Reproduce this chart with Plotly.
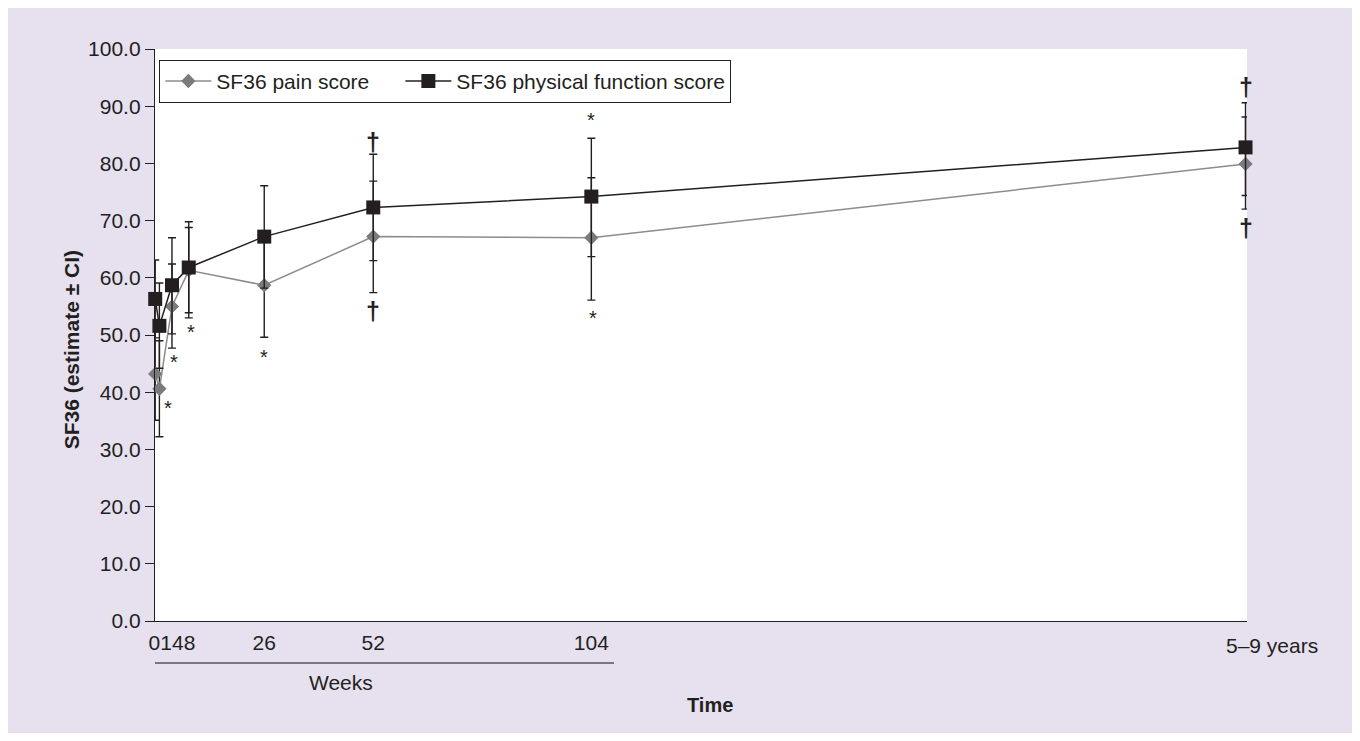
import plotly.graph_objects as go

# ---- data ----
time_x = [0, 1, 4, 8, 26, 52, 104, 260]
x_tick_vals = [4, 26, 52, 104]
x_tick_text = ["0148", "26", "52", "104"]
years_label = "5–9 years"

pain = [43.2, 40.6, 55.0, 61.3, 58.7, 67.2, 67.0, 79.9]
pain_upper = [51.3, 49.0, 62.4, 68.8, 67.7, 76.9, 77.5, 88.1]
pain_lower = [35.1, 32.2, 47.7, 53.0, 49.6, 57.4, 56.1, 72.0]

phys = [56.3, 51.6, 58.7, 61.8, 67.2, 72.3, 74.2, 82.8]
phys_upper = [63.1, 59.1, 67.0, 69.8, 76.1, 81.6, 84.4, 90.6]
phys_lower = [49.5, 44.2, 50.2, 53.9, 58.2, 63.0, 63.7, 74.4]

y_ticks = [0, 10, 20, 30, 40, 50, 60, 70, 80, 90, 100]

# significance marks: (time, symbol, series, bound)
sig_marks = [
    (1, "*", "pain", "value"),
    (4, "*", "pain", "lower"),
    (8, "*", "pain", "lower"),
    (26, "*", "pain", "lower"),
    (52, "†", "phys", "upper"),
    (52, "†", "pain", "lower"),
    (104, "*", "phys", "upper"),
    (104, "*", "pain", "lower"),
    (260, "†", "phys", "upper"),
    (260, "†", "pain", "lower"),
]
# pixel offsets of each mark from its anchor (dx, dy; dy positive = up)
sig_offsets = [(9, -14), (2, -9), (2, -9), (0, -15), (0, 12), (0, -18),
               (0, 23), (2, -13), (0, 16), (0, -19)]

DARK = "#231F20"
GRAY_M = "#7B7B7F"
GRAY_L = "#8C8C8C"
LAV = "#E6E0EF"
FONT = "Liberation Sans, Arial, Helvetica, sans-serif"
FS = 21

fig = go.Figure()

fig.add_trace(go.Scatter(
    x=time_x, y=pain, name="SF36 pain score", mode="lines+markers",
    line=dict(color=GRAY_L, width=1.5),
    marker=dict(symbol="diamond", size=11, color=GRAY_M),
    error_y=dict(type="data", symmetric=False,
                 array=[u - v for u, v in zip(pain_upper, pain)],
                 arrayminus=[v - l for v, l in zip(pain, pain_lower)],
                 color=DARK, thickness=1.4, width=4),
    cliponaxis=False, legendwidth=179,
))
fig.add_trace(go.Scatter(
    x=time_x, y=phys, name="SF36 physical function score", mode="lines+markers",
    line=dict(color=DARK, width=1.5),
    marker=dict(symbol="square", size=14, color=DARK),
    error_y=dict(type="data", symmetric=False,
                 array=[u - v for u, v in zip(phys_upper, phys)],
                 arrayminus=[v - l for v, l in zip(phys, phys_lower)],
                 color=DARK, thickness=1.4, width=4),
    cliponaxis=False,
))

series = {
    "pain": dict(value=pain, upper=pain_upper, lower=pain_lower),
    "phys": dict(value=phys, upper=phys_upper, lower=phys_lower),
}

annotations = []
for (t, sym, s, bound), (dx, dy) in zip(sig_marks, sig_offsets):
    i = time_x.index(t)
    yv = series[s][bound][i]
    if sym == "*":
        text, size, ysh = "*", 20, dy - 5
    else:
        text, size, ysh = "<b>†</b>", 25, dy
    annotations.append(dict(x=t, y=yv, xref="x", yref="y", text=text,
                            showarrow=False, xshift=dx, yshift=ysh,
                            font=dict(size=size, color=DARK, family=FONT)))

annotations += [
    dict(x=260, y=0, xref="x", yref="paper", text=years_label, showarrow=False,
         xshift=26, yshift=-24, yanchor="middle",
         font=dict(size=FS, color=DARK, family=FONT)),
    dict(x=44.3, y=-0.108, xref="x", yref="paper", text="Weeks", showarrow=False,
         yanchor="middle", font=dict(size=FS, color=DARK, family=FONT)),
    dict(x=0.508, y=-0.147, xref="paper", yref="paper", text="<b>Time</b>",
         showarrow=False, yanchor="middle",
         font=dict(size=20, color=DARK, family=FONT)),
    dict(x=-0.0765, y=0.474, xref="paper", yref="paper",
         text="<b>SF36 (estimate ± CI)</b>", showarrow=False, textangle=-90,
         xanchor="center", yanchor="middle",
         font=dict(size=21, color=DARK, family=FONT)),
]

fig.update_layout(
    width=1344, height=725,
    margin=dict(l=147, r=105, t=41, b=112),
    paper_bgcolor=LAV, plot_bgcolor="white",
    font=dict(family=FONT, size=FS, color=DARK),
    showlegend=True,
    legend=dict(orientation="h", x=0.004, y=0.981, xanchor="left", yanchor="top",
                bgcolor="white", bordercolor=DARK, borderwidth=1, itemwidth=46,
                font=dict(size=FS, color=DARK, family=FONT)),
    annotations=annotations,
    shapes=[dict(type="line", xref="x", yref="paper", x0=-1.4, x1=109.4,
                 y0=-0.0734, y1=-0.0734, line=dict(color="#555555", width=1.5))],
)
fig.update_xaxes(range=[-0.05, 260.35], showline=True, linecolor=DARK, linewidth=1.3,
                 ticks="", tickvals=x_tick_vals, ticktext=x_tick_text,
                 showgrid=False, zeroline=False, ticklabelstandoff=3,
                 tickfont=dict(size=FS, color=DARK, family=FONT))
fig.update_yaxes(range=[0, 100], showline=True, linecolor=DARK, linewidth=1.3,
                 ticks="outside", ticklen=9, tickcolor=DARK, tickwidth=1.3,
                 tickvals=y_ticks, ticktext=[f"{v:.1f}" for v in y_ticks],
                 showgrid=False, zeroline=False,
                 tickfont=dict(size=FS, color=DARK, family=FONT))

fig.write_html("out.html")
